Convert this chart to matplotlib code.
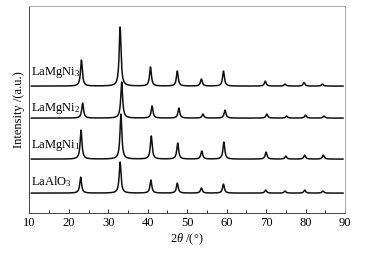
import numpy as np
import matplotlib
matplotlib.use("Agg")
import matplotlib.pyplot as plt

plt.rcParams['font.family'] = ['Liberation Serif', 'DejaVu Serif']
plt.rcParams['mathtext.fontset'] = 'custom'
plt.rcParams['mathtext.rm'] = 'Liberation Serif'
plt.rcParams['mathtext.it'] = 'Liberation Serif:italic'

# sample names (top to bottom) and their baselines (arbitrary units)
samples = ['LaMgNi$_3$', 'LaMgNi$_2$', 'LaMgNi$_1$', 'LaAlO$_3$']
baselines = [127, 95, 54, 20]

# peak positions (2theta, deg) and heights (a.u.) per sample
pos_3 = [23.2, 33.0, 40.7, 47.5, 53.6, 59.2, 69.8, 74.8, 79.6, 84.3]
hgt_3 = [26, 59, 19, 15, 7, 15, 5, 2, 3.5, 2]
pos_2 = [23.5, 33.4, 41.1, 47.9, 54.0, 59.6, 70.2, 75.2, 80.0, 84.7]
hgt_2 = [15, 36, 12, 10, 4, 8, 4, 2, 3, 2]
pos_1 = [23.1, 33.2, 40.9, 47.6, 53.7, 59.3, 70.0, 75.0, 79.8, 84.5]
hgt_1 = [29, 45, 23, 16, 8, 17, 7, 3, 4, 4]
pos_0 = [23.0, 33.0, 40.8, 47.5, 53.6, 59.2, 69.9, 74.8, 79.8, 84.4]
hgt_0 = [16, 31, 13, 10, 5, 9, 3, 2, 3, 2]

peaks = [(pos_3, hgt_3), (pos_2, hgt_2), (pos_1, hgt_1), (pos_0, hgt_0)]

two_theta = np.linspace(10.5, 89.5, 3000)

def pattern(pos, hgt, w=0.28):
    y = np.zeros_like(two_theta)
    for p, h in zip(pos, hgt):
        y += h / (1 + ((two_theta - p) / w) ** 2)
    return y

fig = plt.figure(figsize=(3.67, 2.54), dpi=100)
ax = fig.add_axes([0.080, 0.161, 0.860, 0.815])

label_y = [141, 105, 68, 32]
for (pos, hgt), base, name, ly in zip(peaks, baselines, samples, label_y):
    ax.plot(two_theta, base + pattern(pos, hgt), color='#111111', lw=1.1)
    ax.text(10.4, ly, name, fontsize=9, ha='left', va='center')

ax.set_xlim(10, 90)
ax.set_ylim(0, 207)
ax.set_xticks(np.arange(10, 91, 10))
ax.set_xticks(np.arange(15, 90, 10), minor=True)
ax.set_yticks([])
ax.tick_params(axis='x', direction='in', length=3, width=0.6, labelsize=9, pad=3)
ax.tick_params(axis='x', which='minor', direction='in', length=2, width=0.6)
for s in ['left', 'bottom']:
    ax.spines[s].set_color('#444444')
    ax.spines[s].set_linewidth(0.7)
for s in ['top', 'right']:
    ax.spines[s].set_color('#aaaaaa')
    ax.spines[s].set_linewidth(0.7)
ax.set_xlabel(r'2$\it{\theta}$ /(°)', fontsize=9, labelpad=2)
ax.set_ylabel('Intensity /(a.u.)', fontsize=9, labelpad=3)

fig.savefig('out.png', dpi=100)
